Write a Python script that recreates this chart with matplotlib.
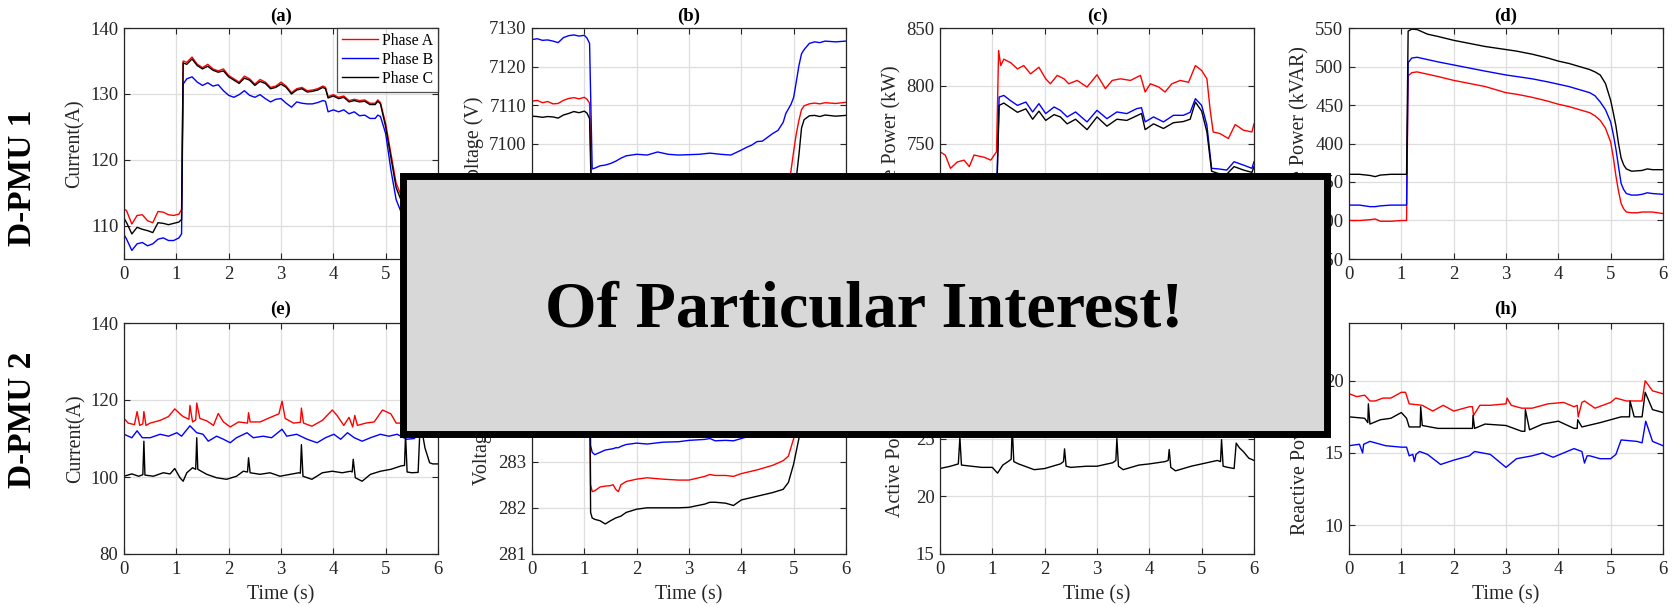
import matplotlib
matplotlib.use('Agg')
import matplotlib.pyplot as plt
from matplotlib.patches import Rectangle

plt.rcParams['font.family'] = ['Liberation Serif', 'DejaVu Serif']

# ---- D-PMU 1 ----
# (a) current
t_a = [0, 0.05, 0.15, 0.25, 0.35, 0.45, 0.55, 0.65, 0.75, 0.85, 0.95, 1.05, 1.1, 1.13,
       1.2, 1.3, 1.4, 1.5, 1.6, 1.7, 1.8, 1.9, 2.0, 2.1, 2.2, 2.3, 2.4, 2.5, 2.6, 2.7,
       2.8, 2.9, 3.0, 3.1, 3.2, 3.3, 3.4, 3.5, 3.6, 3.7, 3.8, 3.85, 3.9, 4.0, 4.1, 4.2,
       4.3, 4.4, 4.5, 4.6, 4.7, 4.8, 4.85, 4.9, 5.0, 5.1, 5.2, 5.3, 5.4, 5.6, 5.8, 6.0]
a_phase_a = [112.6, 112.3, 110.3, 111.6, 111.7, 110.8, 110.5, 112.2, 112.1, 111.7, 111.6,
             111.8, 112.5, 135.0, 134.8, 135.6, 134.5, 134.0, 134.5, 133.8, 133.5, 133.8,
             132.8, 132.3, 131.8, 132.7, 132.3, 131.5, 132.2, 131.8, 131.0, 131.2, 131.8,
             131.2, 130.2, 130.8, 131.0, 130.5, 130.6, 130.8, 131.2, 131.0, 129.6, 129.9,
             129.5, 129.7, 129.0, 129.2, 129.0, 129.1, 128.6, 128.6, 129.1, 128.7, 125.5,
             121.0, 116.5, 114.5, 113.0, 112.8, 113.2, 113.0]
a_phase_b = [108.7, 108.0, 106.3, 107.3, 107.5, 107.0, 107.3, 108.0, 108.2, 107.8, 107.8,
             108.2, 108.8, 131.5, 132.3, 132.6, 131.8, 131.3, 131.7, 131.2, 131.4, 130.5,
             129.8, 129.5, 129.9, 130.5, 129.8, 129.5, 129.9, 129.3, 128.8, 129.2, 129.3,
             128.6, 128.0, 128.8, 128.6, 128.5, 128.5, 128.7, 129.0, 128.9, 127.3, 127.6,
             127.3, 127.6, 127.0, 127.3, 126.7, 126.8, 126.3, 126.3, 126.8, 126.6, 124.0,
             118.5, 114.0, 112.0, 110.5, 110.3, 110.6, 110.4]
a_phase_c = [111.2, 110.5, 108.8, 109.8, 109.5, 109.3, 109.0, 110.5, 110.4, 110.2, 110.4,
             110.6, 111.0, 134.7, 134.5, 135.3, 134.3, 133.8, 134.2, 133.6, 133.3, 133.5,
             132.6, 132.1, 131.6, 132.4, 132.1, 131.3, 131.9, 131.6, 130.8, 131.0, 131.5,
             131.0, 130.0, 130.6, 130.8, 130.3, 130.4, 130.6, 131.0, 130.8, 129.4, 129.7,
             129.3, 129.5, 128.8, 129.0, 128.8, 128.9, 128.4, 128.4, 128.9, 128.5, 125.0,
             120.4, 115.8, 113.8, 112.5, 112.2, 112.6, 112.4]

# (b) voltage
t_b = [0, 0.1, 0.2, 0.3, 0.4, 0.5, 0.6, 0.7, 0.8, 0.9, 1.0, 1.05, 1.1, 1.15, 1.2, 1.3,
       1.4, 1.5, 1.6, 1.7, 1.8, 1.9, 2.0, 2.2, 2.4, 2.6, 2.8, 3.0, 3.2, 3.4, 3.6, 3.8,
       4.0, 4.1, 4.2, 4.3, 4.4, 4.5, 4.6, 4.7, 4.8, 4.85, 4.9, 4.95, 5.0, 5.05, 5.1,
       5.15, 5.2, 5.3, 5.4, 5.5, 5.6, 5.8, 6.0]
b_phase_a = [7111.0, 7111.2, 7110.6, 7110.9, 7110.3, 7110.4, 7111.2, 7111.7, 7111.9, 7111.6,
             7112.0, 7111.5, 7110.5, 7080.5, 7080.3, 7080.6, 7080.8, 7081.0, 7081.2, 7081.4,
             7081.5, 7081.6, 7081.7, 7081.6, 7081.9, 7081.7, 7081.6, 7081.8, 7081.9, 7082.0,
             7081.9, 7081.8, 7082.2, 7082.4, 7082.6, 7082.8, 7083.0, 7083.3, 7083.6, 7084.0,
             7084.8, 7086.0, 7089.0, 7093.0, 7098.0, 7102.5, 7106.0, 7108.8, 7109.8, 7110.3,
             7110.5, 7110.3, 7110.6, 7110.4, 7110.7]
b_phase_b = [7127.0, 7127.2, 7126.8, 7126.9, 7126.6, 7126.2, 7127.5, 7128.0, 7128.2, 7127.9,
             7128.1, 7127.4, 7126.0, 7093.4, 7093.6, 7094.2, 7094.4, 7094.8, 7095.4, 7096.2,
             7096.8, 7097.0, 7097.2, 7097.0, 7097.8, 7097.2, 7097.0, 7097.1, 7097.2, 7097.5,
             7097.2, 7097.0, 7098.3, 7099.0, 7099.6, 7100.5, 7100.6, 7101.6, 7102.6, 7103.4,
             7105.5, 7107.8, 7109.0, 7110.2, 7112.0, 7116.0, 7120.2, 7123.3, 7124.4, 7126.0,
             7126.4, 7126.2, 7126.6, 7126.4, 7126.6]
b_phase_c = [7107.1, 7107.0, 7106.8, 7107.0, 7106.9, 7106.6, 7107.4, 7107.8, 7108.3, 7108.0,
             7108.4, 7107.9, 7106.5, 7077.0, 7076.8, 7077.0, 7077.2, 7077.4, 7077.6, 7077.7,
             7077.9, 7078.0, 7078.1, 7078.0, 7078.3, 7078.1, 7078.0, 7078.2, 7078.3, 7078.4,
             7078.3, 7078.2, 7078.5, 7078.7, 7078.9, 7079.1, 7079.3, 7079.5, 7079.8, 7080.2,
             7080.8, 7081.5, 7082.5, 7084.0, 7087.0, 7091.0, 7097.0, 7104.0, 7106.2, 7107.2,
             7107.3, 7107.0, 7107.4, 7107.1, 7107.3]

# (c) active power
t_c = [0, 0.1, 0.2, 0.33, 0.46, 0.56, 0.65, 0.75, 0.85, 0.97, 1.08, 1.12, 1.16, 1.22,
       1.35, 1.48, 1.6, 1.73, 1.89, 2.02, 2.11, 2.24, 2.37, 2.46, 2.62, 2.81, 3.0, 3.16,
       3.29, 3.45, 3.64, 3.83, 3.92, 4.02, 4.18, 4.3, 4.43, 4.59, 4.75, 4.88, 5.0, 5.1,
       5.16, 5.22, 5.35, 5.51, 5.64, 5.8, 5.96, 6.0]
c_phase_a = [742.8, 740, 728.5, 734, 735.6, 730, 740, 739, 738, 735.6, 742.8, 830.5, 817.5,
             823, 820, 814.6, 817.5, 810.3, 816, 806, 801.7, 809, 806, 801.7, 804.6, 798.9,
             809.5, 797.5, 804.6, 806, 804.6, 809, 794.6, 801.7, 798.9, 794.6, 801.7, 804.6,
             803, 817.5, 813.2, 806, 780, 760, 758.6, 754.3, 766.4, 761.5, 760, 767]
t_c_bc = [0, 0.5, 1.0, 1.08, 1.13, 1.22, 1.35, 1.48, 1.64, 1.77, 1.89, 2.02, 2.18, 2.3,
          2.43, 2.59, 2.81, 3.0, 3.19, 3.38, 3.57, 3.76, 3.85, 3.92, 4.08, 4.27, 4.46, 4.65,
          4.78, 4.88, 5.0, 5.1, 5.19, 5.32, 5.48, 5.62, 5.8, 5.96, 6.0]
c_phase_b = [702, 700, 703, 704, 790.2, 791.6, 787, 783.0, 785.9, 777.3, 784.5, 775.9, 781.6,
             778.7, 773.0, 777.3, 768.7, 778.7, 771.5, 777.3, 775.9, 780.2, 781, 768.7, 773.0,
             768.7, 774.4, 774.4, 777, 788.8, 783.0, 765.8, 728.5, 728, 727.0, 734.2, 731.3,
             728.5, 734.2]
c_phase_c = [697, 695, 698, 699, 783, 785, 781, 777, 780, 771, 778, 770, 775, 773, 767, 771,
             762, 773, 765, 771, 770, 774, 776, 762, 767, 763, 768, 769, 771, 785.9, 778, 760,
             726, 724, 723.5, 730, 727, 725, 730]

# (d) reactive power
t_d = [0, 0.2, 0.4, 0.5, 0.6, 0.8, 1.0, 1.1, 1.13, 1.2, 1.3, 1.5, 1.7, 2.0, 2.3, 2.6, 3.0,
       3.2, 3.5, 3.8, 4.0, 4.2, 4.4, 4.6, 4.7, 4.8, 4.9, 5.0, 5.05, 5.1, 5.15, 5.2, 5.25,
       5.3, 5.4, 5.5, 5.6, 5.7, 5.8, 6.0]
d_phase_a = [300, 300, 301, 302, 299, 299, 300, 300, 488, 492, 493, 490, 487, 482, 478, 474,
             466, 464, 460, 455, 451, 448, 444, 440, 436, 430, 420, 402, 382, 358, 338, 322,
             315, 311, 310, 310, 311, 311, 311, 309]
d_phase_b = [320, 320, 318, 318, 319, 320, 320, 320, 505, 511, 512, 509, 506, 502, 498, 494,
             489, 487, 484, 480, 477, 474, 470, 466, 462, 454, 444, 428, 412, 393, 370, 348,
             340, 335, 333, 333, 334, 336, 335, 334]
d_phase_c = [360, 360, 358.5, 357, 359, 360, 360, 360, 546, 548.5, 548, 542, 539, 534, 530,
             526, 522, 520, 516, 511, 507, 504, 500, 496, 493, 489, 478, 456, 440, 423, 400,
             381, 372, 367, 364, 364.5, 365, 367, 366, 366]

# ---- D-PMU 2 ----
# (e) current
t_e_a = [0, 0.08, 0.2, 0.25, 0.3, 0.36, 0.38, 0.42, 0.5, 0.69, 0.85, 0.97, 1.07, 1.13, 1.24,
         1.26, 1.31, 1.37, 1.39, 1.45, 1.58, 1.71, 1.8, 1.9, 2.03, 2.19, 2.36, 2.38, 2.41,
         2.6, 2.8, 2.96, 3.02, 3.08, 3.24, 3.37, 3.39, 3.43, 3.59, 3.79, 3.98, 4.07, 4.2,
         4.3, 4.37, 4.41, 4.46, 4.62, 4.78, 4.94, 5.1, 5.2, 5.4, 5.6, 5.68, 5.8, 6.0]
e_phase_a = [115.2, 114.0, 113.6, 117.0, 113.4, 113.8, 117.0, 113.4, 114.0, 114.7, 115.7,
             117.7, 116.4, 115.7, 115.0, 118.6, 114.3, 114.8, 119.2, 115.2, 114.6, 113.4,
             116.5, 114.3, 113.0, 114.3, 114.0, 116.7, 114.3, 114.3, 115.5, 116.4, 119.7,
             115.2, 114.0, 114.2, 117.9, 114.0, 113.2, 114.7, 117.4, 116.0, 113.4, 115.5,
             113.0, 116.0, 113.4, 114.0, 114.3, 117.4, 116.4, 114.0, 114.0, 114.5, 118.0,
             116.0, 115.0]
t_e_b = [0, 0.15, 0.25, 0.35, 0.5, 0.69, 0.85, 1.01, 1.1, 1.26, 1.39, 1.51, 1.61, 1.77, 1.9,
         2.03, 2.15, 2.35, 2.47, 2.66, 2.82, 3.02, 3.11, 3.3, 3.5, 3.69, 3.85, 4.01, 4.14,
         4.27, 4.4, 4.55, 4.71, 4.9, 5.06, 5.22, 5.4, 5.55, 5.67, 5.8, 6.0]
e_phase_b = [111.1, 110.2, 112.0, 110.2, 110.2, 111.1, 110.6, 111.5, 110.6, 113.3, 111.5,
             111.1, 109.3, 110.6, 109.8, 108.9, 110.2, 111.5, 110.2, 110.6, 110.2, 112.4,
             110.6, 111.1, 109.8, 108.9, 110.2, 111.1, 109.8, 111.5, 110.2, 109.3, 110.2,
             111.1, 110.6, 111.1, 109.8, 110.0, 113.0, 111.0, 110.5]
t_e_c = [0, 0.15, 0.28, 0.36, 0.38, 0.4, 0.56, 0.75, 0.88, 0.97, 1.07, 1.13, 1.2, 1.31, 1.37,
         1.39, 1.41, 1.58, 1.77, 1.96, 2.15, 2.28, 2.36, 2.38, 2.41, 2.6, 2.79, 2.98, 3.18,
         3.34, 3.37, 3.39, 3.42, 3.59, 3.79, 3.98, 4.17, 4.33, 4.36, 4.38, 4.42, 4.55, 4.71,
         4.9, 5.1, 5.3, 5.36, 5.38, 5.41, 5.5, 5.62, 5.66, 5.72, 5.75, 5.84, 5.9, 6.0]
e_phase_c = [100.2, 100.8, 100.2, 100.6, 109.3, 100.5, 100.2, 101.1, 100.8, 102.2, 99.8,
             98.9, 101.1, 102.4, 102.0, 110.2, 102.0, 100.7, 99.8, 99.4, 100.2, 101.5, 101.3,
             105.0, 101.1, 100.7, 101.1, 100.2, 100.7, 101.1, 101.0, 108.4, 100.2, 99.4,
             101.1, 101.5, 101.1, 101.5, 101.3, 104.6, 99.8, 98.9, 100.7, 101.5, 102.0, 102.9,
             103.0, 111.0, 101.3, 101.1, 101.2, 114.0, 110.0, 107.6, 103.7, 103.4, 103.4]

# (f) voltage
t_f = [0, 0.3, 0.6, 0.9, 1.1, 1.12, 1.15, 1.2, 1.3, 1.4, 1.5, 1.55, 1.6, 1.65, 1.7, 1.8,
       2.0, 2.2, 2.5, 2.8, 3.0, 3.3, 3.4, 3.5, 3.7, 3.85, 4.0, 4.3, 4.6, 4.8, 4.9, 5.0,
       5.1, 5.2, 5.3, 5.5, 5.8, 6.0]
f_phase_a = [285.2, 285.15, 285.25, 285.3, 285.2, 282.5, 282.35, 282.37, 282.45, 282.47,
             282.48, 282.5, 282.4, 282.35, 282.5, 282.57, 282.62, 282.65, 282.62, 282.6,
             282.6, 282.68, 282.72, 282.7, 282.7, 282.68, 282.74, 282.82, 282.92, 283.02,
             283.12, 283.5, 284.2, 284.8, 285.1, 285.2, 285.2, 285.2]
f_phase_b = [285.6, 285.55, 285.65, 285.7, 285.6, 283.35, 283.2, 283.15, 283.2, 283.25,
             283.27, 283.28, 283.3, 283.3, 283.33, 283.37, 283.4, 283.38, 283.42, 283.43,
             283.46, 283.48, 283.5, 283.45, 283.46, 283.45, 283.5, 283.6, 283.75, 284.0,
             284.3, 284.8, 285.3, 285.5, 285.58, 285.6, 285.6, 285.6]
f_phase_c = [284.8, 284.75, 284.85, 284.9, 284.8, 281.9, 281.78, 281.75, 281.72, 281.65,
             281.72, 281.75, 281.78, 281.8, 281.82, 281.9, 281.97, 282.0, 282.0, 282.0,
             282.01, 282.08, 282.12, 282.12, 282.1, 282.05, 282.17, 282.25, 282.33, 282.4,
             282.55, 282.95, 283.5, 284.2, 284.6, 284.8, 284.8, 284.8]

# (g) active power
t_g_ab = [0, 1.0, 2.0, 3.0, 4.0, 5.0, 5.66, 6.0]
g_phase_a = [31.0, 31.3, 30.8, 31.0, 31.1, 31.2, 32.2, 31.4]
g_phase_b = [28.2, 28.0, 27.8, 27.9, 28.1, 28.0, 29.0, 28.3]
t_g_c = [0, 0.2, 0.35, 0.38, 0.41, 0.6, 0.8, 1.0, 1.1, 1.2, 1.3, 1.36, 1.38, 1.41, 1.5,
         1.8, 2.0, 2.3, 2.36, 2.38, 2.41, 2.5, 2.8, 3.0, 3.3, 3.36, 3.38, 3.41, 3.5, 3.8,
         4.0, 4.3, 4.36, 4.38, 4.41, 4.5, 4.8, 5.0, 5.3, 5.36, 5.38, 5.41, 5.5, 5.62, 5.66,
         5.72, 5.8, 5.9, 6.0]
g_phase_c = [22.4, 22.6, 22.8, 25.1, 22.7, 22.6, 22.5, 22.5, 22.0, 22.7, 23.0, 23.2, 26.0,
             23.0, 22.8, 22.3, 22.4, 22.8, 23.0, 24.1, 22.6, 22.5, 22.6, 22.6, 22.9, 23.1,
             25.0, 22.6, 22.3, 22.7, 22.8, 23.0, 23.1, 24.05, 22.5, 22.2, 22.6, 22.8, 23.1,
             23.0, 24.9, 22.6, 22.5, 22.4, 24.6, 24.2, 23.85, 23.3, 23.1]

# (h) reactive power
t_h_a = [0, 0.15, 0.3, 0.4, 0.5, 0.65, 0.8, 1.0, 1.08, 1.15, 1.4, 1.6, 1.8, 2.0, 2.3, 2.36,
         2.38, 2.5, 2.7, 3.0, 3.02, 3.1, 3.3, 3.5, 3.8, 4.1, 4.3, 4.36, 4.38, 4.45, 4.5,
         4.7, 5.0, 5.1, 5.3, 5.6, 5.66, 5.8, 6.0]
h_phase_a = [19.1, 18.9, 19.0, 18.6, 18.6, 18.8, 18.8, 19.2, 19.2, 18.4, 18.3, 17.9, 18.3,
             17.9, 18.2, 18.2, 17.6, 18.3, 18.3, 18.4, 18.8, 18.3, 18.1, 18.1, 18.4, 18.5,
             18.2, 18.3, 17.5, 18.5, 18.6, 18.1, 18.5, 18.8, 18.6, 18.6, 20.0, 19.3, 19.1]
t_h_b = [0, 0.2, 0.26, 0.28, 0.4, 0.7, 1.0, 1.1, 1.15, 1.22, 1.25, 1.28, 1.35, 1.5, 1.75,
         2.0, 2.3, 2.4, 2.7, 3.0, 3.2, 3.5, 3.7, 3.9, 4.1, 4.3, 4.45, 4.5, 4.55, 4.6, 4.8,
         5.0, 5.1, 5.2, 5.5, 5.6, 5.67, 5.8, 6.0]
h_phase_b = [15.5, 15.6, 15.0, 15.6, 15.8, 15.5, 15.4, 15.4, 14.8, 14.9, 14.4, 14.9, 15.1,
             14.9, 14.2, 14.5, 14.8, 15.1, 14.9, 14.0, 14.6, 14.8, 15.0, 14.7, 15.0, 15.3,
             15.1, 14.3, 14.8, 14.8, 14.6, 14.6, 14.9, 15.9, 15.8, 15.7, 17.2, 15.8, 15.5]
t_h_c = [0, 0.3, 0.36, 0.37, 0.4, 0.6, 0.8, 1.0, 1.1, 1.15, 1.36, 1.37, 1.4, 1.7, 2.0, 2.36,
         2.37, 2.4, 2.6, 3.0, 3.3, 3.36, 3.37, 3.45, 3.7, 4.0, 4.3, 4.36, 4.37, 4.45, 4.8,
         5.0, 5.2, 5.36, 5.37, 5.45, 5.6, 5.66, 5.8, 6.0]
h_phase_c = [17.5, 17.4, 17.1, 18.4, 17.0, 17.3, 17.4, 17.8, 17.4, 16.8, 16.8, 18.2, 16.9,
             16.7, 16.7, 16.7, 17.6, 16.7, 17.0, 16.9, 16.5, 16.5, 18.0, 16.6, 17.0, 17.2,
             16.7, 16.7, 17.3, 16.8, 17.1, 17.3, 17.5, 17.5, 18.6, 17.5, 17.5, 19.2, 18.0, 17.8]

phase_names = ['Phase A', 'Phase B', 'Phase C']
phase_colors = ['#ff0000', '#0000ff', '#000000']

W, H = 1672, 607
fig = plt.figure(figsize=(W / 100, H / 100), dpi=100)

col_left = [124, 532, 940, 1349]
row_top = [28, 323]
ax_w, ax_h = 314, 231

# (title, ylabel, ylim, yticks, series, ylabel offset px)
panels = [
    ('(a)', 'Current(A)', (105, 140), [110, 120, 130, 140],
     [(t_a, a_phase_a), (t_a, a_phase_b), (t_a, a_phase_c)], 49),
    ('(b)', 'Voltage (V)', (7070, 7130), list(range(7070, 7131, 10)),
     [(t_b, b_phase_a), (t_b, b_phase_b), (t_b, b_phase_c)], 58),
    ('(c)', 'Active Power (kW)', (650, 850), [650, 700, 750, 800, 850],
     [(t_c, c_phase_a), (t_c_bc, c_phase_b), (t_c_bc, c_phase_c)], 48),
    ('(d)', 'Reactive Power (kVAR)', (250, 550), list(range(250, 551, 50)),
     [(t_d, d_phase_a), (t_d, d_phase_b), (t_d, d_phase_c)], 49),
    ('(e)', 'Current(A)', (80, 140), [80, 100, 120, 140],
     [(t_e_a, e_phase_a), (t_e_b, e_phase_b), (t_e_c, e_phase_c)], 48),
    ('(f)', 'Voltage (V)', (281, 286), [281, 282, 283, 284, 285, 286],
     [(t_f, f_phase_a), (t_f, f_phase_b), (t_f, f_phase_c)], 50),
    ('(g)', 'Active Power (kW)', (15, 35), [15, 20, 25, 30, 35],
     [(t_g_ab, g_phase_a), (t_g_ab, g_phase_b), (t_g_c, g_phase_c)], 44),
    ('(h)', 'Reactive Power (kVAR)', (8, 24), [10, 15, 20],
     [(t_h_a, h_phase_a), (t_h_b, h_phase_b), (t_h_c, h_phase_c)], 48),
]

dark = '#262626'
axes = []
for i, (title, ylabel, ylim, yticks, series, yoff) in enumerate(panels):
    row, col = divmod(i, 4)
    left, top = col_left[col], row_top[row]
    ax = fig.add_axes([left / W, 1 - (top + ax_h) / H, ax_w / W, ax_h / H])
    for (t, v), name, c in zip(series, phase_names, phase_colors):
        ax.plot(t, v, color=c, lw=1.0, label=name)
    ax.set_xlim(0, 6)
    ax.set_xticks(range(7))
    ax.set_ylim(*ylim)
    ax.set_yticks(yticks)
    ax.grid(True, color='#dedede', lw=0.9)
    ax.set_axisbelow(True)
    ax.tick_params(direction='in', top=True, right=True, length=4, width=0.8,
                   colors=dark, labelsize=13.5)
    ax.tick_params(axis='x', pad=5)
    ax.tick_params(axis='y', pad=4)
    for s in ax.spines.values():
        s.set_color(dark)
        s.set_linewidth(0.9)
    ax.set_ylabel(ylabel, fontsize=14.4, color=dark, va='center')
    ax.yaxis.set_label_coords(-yoff / ax_w, 0.5)
    gap = 12 if row == 0 else 14
    ax.text(0.5, 1 + gap / ax_h, title, transform=ax.transAxes, ha='center',
            va='center', fontsize=13.5, fontweight='bold')
    if row == 1:
        ax.set_xlabel('Time (s)', fontsize=14.3, color=dark, va='center')
        ax.xaxis.set_label_coords(0.5, -41 / ax_h)
    axes.append(ax)

leg = axes[0].legend(loc='upper right', fontsize=11.3, frameon=True, fancybox=False,
                     borderaxespad=0, handlelength=2.3, handletextpad=0.25,
                     labelspacing=0.2, borderpad=0.3)
leg.get_frame().set_edgecolor(dark)
leg.get_frame().set_linewidth(0.9)

# row labels
fig.text(23 / W, 1 - 178 / H, 'D-PMU 1', rotation=90, ha='center', va='center',
         fontsize=24, fontweight='bold')
fig.text(23 / W, 1 - 420 / H, 'D-PMU 2', rotation=90, ha='center', va='center',
         fontsize=24, fontweight='bold')

# highlight box over the middle panels
box = Rectangle((402.5 / W, 1 - 433.5 / H), 924 / W, 258 / H, transform=fig.transFigure,
                facecolor='#d8d8d8', edgecolor='black', linewidth=5.0, zorder=10)
fig.add_artist(box)
fig.text(864.5 / W, 1 - 326.7 / H, 'Of Particular Interest!', ha='center', va='baseline',
         fontsize=47.7, fontweight='bold', zorder=11)

fig.savefig('out.png', dpi=100)
